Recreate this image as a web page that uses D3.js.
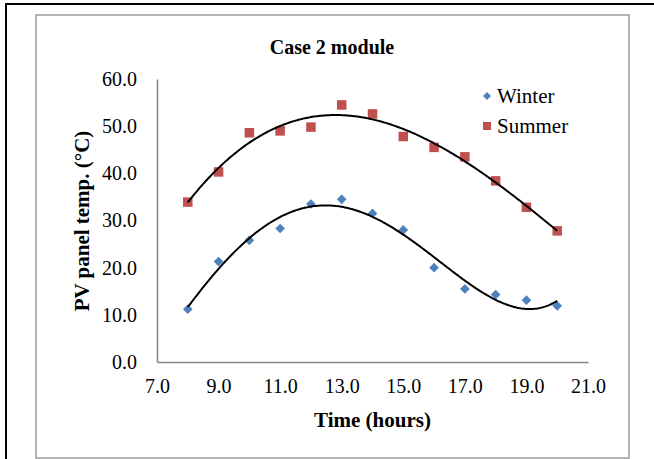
<!DOCTYPE html>
<html>
<head>
<meta charset="utf-8">
<script src="https://cdn.jsdelivr.net/npm/d3@7"></script>
<style>
  body { margin: 0; background: #fff; }
  svg text { font-family: "Liberation Serif", "Times New Roman", "DejaVu Serif", serif !important; }
</style>
</head>
<body>
<div id="chart"></div>
<script>
// data
var hours = [8, 9, 10, 11, 12, 13, 14, 15, 16, 17, 18, 19, 20];
var winter = [11.2, 21.3, 25.8, 28.3, 33.5, 34.5, 31.5, 28.0, 20.0, 15.5, 14.3, 13.1, 11.9];
var summer = [33.9, 40.3, 48.6, 49.0, 49.8, 54.5, 52.6, 47.8, 45.5, 43.5, 38.4, 32.8, 27.8];
var xTicks = [7, 9, 11, 13, 15, 17, 19, 21];
var yTicks = [0, 10, 20, 30, 40, 50, 60];

var svgWidth = 654;
var svgHeight = 459;

var margin = { top: 79, right: 66, bottom: 97, left: 157 };
var width = 588 - margin.left;
var height = 362 - margin.top;

var svg = d3.select("#chart")
  .append("svg")
  .attr("width", svgWidth)
  .attr("height", svgHeight);

// outer black frame + inner gray chart area border
svg.append("rect")
  .attr("x", 6).attr("y", 4)
  .attr("width", 700).attr("height", 500)
  .attr("fill", "none").attr("stroke", "#000").attr("stroke-width", 2);

svg.append("rect")
  .attr("x", 36).attr("y", 15)
  .attr("width", 593).attr("height", 443)
  .attr("fill", "none").attr("stroke", "#9a9a9a").attr("stroke-width", 1.5);

var chartGroup = svg.append("g")
  .attr("transform", `translate(${margin.left}, ${margin.top})`);

var xScale = d3.scaleLinear().domain([7, 21]).range([0, width]);
var yScale = d3.scaleLinear().domain([0, 60]).range([height, 0]);

// axes
var bottomAxis = d3.axisBottom(xScale).tickValues(xTicks).tickSize(0).tickPadding(17).tickFormat(d3.format(".1f"));
var leftAxis = d3.axisLeft(yScale).tickValues(yTicks).tickSize(0).tickPadding(20).tickFormat(d3.format(".1f"));

var xg = chartGroup.append("g")
  .attr("transform", `translate(0, ${height})`)
  .call(bottomAxis);
var yg = chartGroup.append("g").call(leftAxis);

[xg, yg].forEach(function(g) {
  g.attr("font-family", null).attr("font-size", null);
  g.select(".domain").attr("stroke", "#868686").attr("stroke-width", 1.5);
  g.selectAll("text")
    .attr("font-size", 20)
    .attr("fill", "#000");
});

// least squares polynomial for the trendlines
function polyFit(xs, ys, deg) {
  var n = deg + 1;
  var A = [];
  for (var i = 0; i < n; i++) {
    A.push(new Array(n + 1).fill(0));
    for (var j = 0; j < n; j++) {
      A[i][j] = d3.sum(xs, x => Math.pow(x, i + j));
    }
    A[i][n] = d3.sum(xs, (x, k) => ys[k] * Math.pow(x, i));
  }
  for (var c = 0; c < n; c++) {
    var p = c;
    for (var r = c + 1; r < n; r++) if (Math.abs(A[r][c]) > Math.abs(A[p][c])) p = r;
    var tmp = A[c]; A[c] = A[p]; A[p] = tmp;
    for (var r = 0; r < n; r++) {
      if (r === c) continue;
      var f = A[r][c] / A[c][c];
      for (var k = c; k <= n; k++) A[r][k] -= f * A[c][k];
    }
  }
  var coef = A.map((row, i) => row[n] / row[i]);
  return x => coef.reduce((s, a, i) => s + a * Math.pow(x, i), 0);
}

var line = d3.line()
  .x(d => xScale(d[0]))
  .y(d => yScale(d[1]));

function trend(ys, deg) {
  var f = polyFit(hours, ys, deg);
  var pts = d3.range(8, 20.001, 0.05).map(x => [x, f(x)]);
  chartGroup.append("path")
    .datum(pts)
    .attr("d", line)
    .attr("fill", "none")
    .attr("stroke", "#000")
    .attr("stroke-width", 2);
}

// markers first, trendline on top like Excel
chartGroup.selectAll(".summer")
  .data(hours)
  .enter()
  .append("rect")
  .attr("class", "summer")
  .attr("x", (d, i) => xScale(d) - 4.75)
  .attr("y", (d, i) => yScale(summer[i]) - 4.75)
  .attr("width", 9.5)
  .attr("height", 9.5)
  .attr("fill", "#C0504D");

chartGroup.selectAll(".winter")
  .data(hours)
  .enter()
  .append("path")
  .attr("class", "winter")
  .attr("d", d3.symbol().type(d3.symbolDiamond2).size(60))
  .attr("transform", (d, i) => `translate(${xScale(d)}, ${yScale(winter[i])})`)
  .attr("fill", "#4F81BD");

trend(summer, 3);
trend(winter, 4);

// title
svg.append("text")
  .attr("x", 332)
  .attr("y", 54)
  .attr("text-anchor", "middle")
  .attr("font-weight", "bold")
  .attr("font-size", 20)
  .text("Case 2 module");

// axis labels
svg.append("text")
  .attr("transform", "rotate(-90)")
  .attr("x", -221)
  .attr("y", 89)
  .attr("text-anchor", "middle")
  .attr("font-weight", "bold")
  .attr("font-size", 21)
  .text("PV panel temp. (°C)");

svg.append("text")
  .attr("x", 372.5)
  .attr("y", 427)
  .attr("text-anchor", "middle")
  .attr("font-weight", "bold")
  .attr("font-size", 21)
  .text("Time (hours)");

// legend
var legend = svg.append("g").attr("transform", "translate(487, 0)");
legend.append("path")
  .attr("d", d3.symbol().type(d3.symbolDiamond2).size(40))
  .attr("transform", "translate(0, 96)")
  .attr("fill", "#4F81BD");
legend.append("rect")
  .attr("x", -4).attr("y", 122)
  .attr("width", 8).attr("height", 8)
  .attr("fill", "#C0504D");
legend.append("text")
  .attr("x", 10).attr("y", 103)
  .attr("font-size", 21)
  .text("Winter");
legend.append("text")
  .attr("x", 10).attr("y", 133)
  .attr("font-size", 21)
  .text("Summer");
</script>
</body>
</html>
